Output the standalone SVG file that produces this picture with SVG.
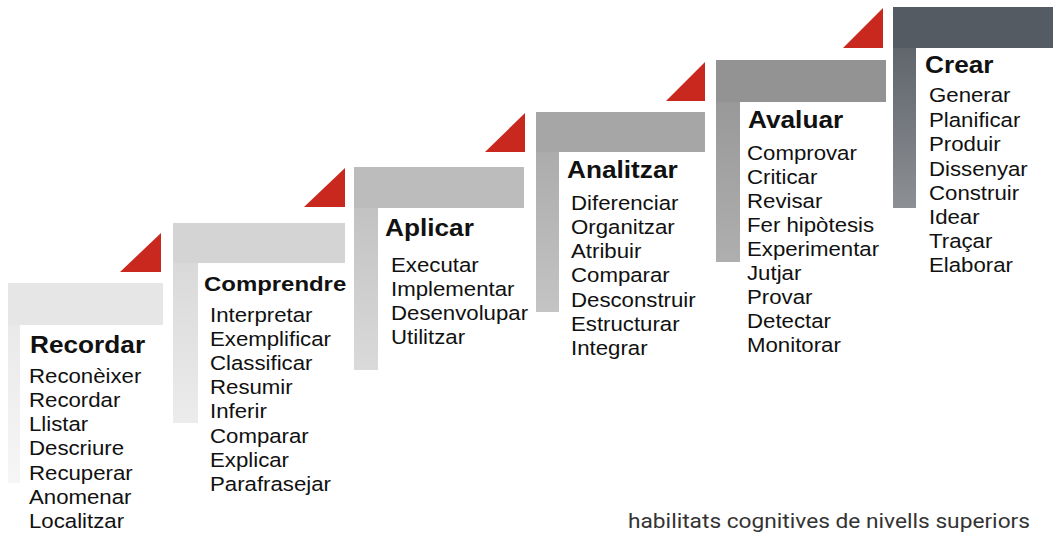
<svg xmlns="http://www.w3.org/2000/svg" width="1053" height="533" viewBox="0 0 1053 533">
<defs>
<style>
.t{font-family:"Liberation Sans",Arial,sans-serif;font-weight:bold;font-size:23px;fill:#111}
.i{font-family:"Liberation Sans",Arial,sans-serif;font-size:19.5px;fill:#111}
.tri{fill:#c8281e}
.foot{font-family:Roboto,"Liberation Sans",sans-serif;font-size:20px;fill:#333}
</style>
<linearGradient id="v1" x1="0" y1="0" x2="0" y2="1"><stop offset="0" stop-color="#e6e6e6"/><stop offset="1" stop-color="#f6f6f6"/></linearGradient>
<linearGradient id="v2" x1="0" y1="0" x2="0" y2="1"><stop offset="0" stop-color="#d4d4d4"/><stop offset="1" stop-color="#ececec"/></linearGradient>
<linearGradient id="v3" x1="0" y1="0" x2="0" y2="1"><stop offset="0" stop-color="#bcbcbc"/><stop offset="1" stop-color="#dadada"/></linearGradient>
<linearGradient id="v4" x1="0" y1="0" x2="0" y2="1"><stop offset="0" stop-color="#a6a6a6"/><stop offset="1" stop-color="#c4c4c4"/></linearGradient>
<linearGradient id="v5" x1="0" y1="0" x2="0" y2="1"><stop offset="0" stop-color="#939393"/><stop offset="1" stop-color="#afafaf"/></linearGradient>
<linearGradient id="v6" x1="0" y1="0" x2="0" y2="1"><stop offset="0" stop-color="#555b63"/><stop offset="1" stop-color="#8c8f93"/></linearGradient>
</defs>
<rect width="1053" height="533" fill="#ffffff"/>

<g id="recordar">
<rect x="8" y="283" width="12" height="200" fill="url(#v1)"/>
<rect x="8" y="283" width="155" height="42" fill="#e6e6e6"/>
<polygon class="tri" points="120,272 161,233 161,272"/>
<g transform="translate(30,0) scale(1.14,1)"><text class="t" x="0" y="353">Recordar</text></g>
<g transform="translate(29,0) scale(1.14,1)">
<text class="i" x="0" y="383">Reconèixer</text>
<text class="i" x="0" y="407">Recordar</text>
<text class="i" x="0" y="431">Llistar</text>
<text class="i" x="0" y="455">Descriure</text>
<text class="i" x="0" y="480">Recuperar</text>
<text class="i" x="0" y="504">Anomenar</text>
<text class="i" x="0" y="528">Localitzar</text>
</g>
</g>

<g id="comprendre">
<rect x="173" y="223" width="25" height="200" fill="url(#v2)"/>
<rect x="173" y="223" width="172" height="40" fill="#d4d4d4"/>
<polygon class="tri" points="304,207 345,168 345,207"/>
<g transform="translate(204,0) scale(1.14,1)"><text class="t" x="0" y="291" style="font-size:21px">Comprendre</text></g>
<g transform="translate(210,0) scale(1.14,1)">
<text class="i" x="0" y="322">Interpretar</text>
<text class="i" x="0" y="346">Exemplificar</text>
<text class="i" x="0" y="370">Classificar</text>
<text class="i" x="0" y="394">Resumir</text>
<text class="i" x="0" y="418">Inferir</text>
<text class="i" x="0" y="443">Comparar</text>
<text class="i" x="0" y="467">Explicar</text>
<text class="i" x="0" y="491">Parafrasejar</text>
</g>
</g>

<g id="aplicar">
<rect x="354" y="167" width="24" height="203" fill="url(#v3)"/>
<rect x="354" y="167" width="170" height="41" fill="#bcbcbc"/>
<polygon class="tri" points="485,152 525,113 525,152"/>
<g transform="translate(385,0) scale(1.14,1)"><text class="t" x="0" y="236">Aplicar</text></g>
<g transform="translate(391,0) scale(1.14,1)">
<text class="i" x="0" y="272">Executar</text>
<text class="i" x="0" y="296">Implementar</text>
<text class="i" x="0" y="320">Desenvolupar</text>
<text class="i" x="0" y="344">Utilitzar</text>
</g>
</g>

<g id="analitzar">
<rect x="536" y="112" width="23" height="200" fill="url(#v4)"/>
<rect x="536" y="112" width="169" height="40" fill="#a6a6a6"/>
<polygon class="tri" points="666,101 705,62 705,101"/>
<g transform="translate(567,0) scale(1.14,1)"><text class="t" x="0" y="178">Analitzar</text></g>
<g transform="translate(571,0) scale(1.14,1)">
<text class="i" x="0" y="210">Diferenciar</text>
<text class="i" x="0" y="234">Organitzar</text>
<text class="i" x="0" y="258">Atribuir</text>
<text class="i" x="0" y="282">Comparar</text>
<text class="i" x="0" y="307">Desconstruir</text>
<text class="i" x="0" y="331">Estructurar</text>
<text class="i" x="0" y="355">Integrar</text>
</g>
</g>

<g id="avaluar">
<rect x="716" y="60" width="24" height="202" fill="url(#v5)"/>
<rect x="716" y="60" width="170" height="42" fill="#939393"/>
<polygon class="tri" points="843,48 883,8 883,48"/>
<g transform="translate(748,0) scale(1.14,1)"><text class="t" x="0" y="128">Avaluar</text></g>
<g transform="translate(747,0) scale(1.14,1)">
<text class="i" x="0" y="160">Comprovar</text>
<text class="i" x="0" y="184">Criticar</text>
<text class="i" x="0" y="208">Revisar</text>
<text class="i" x="0" y="232">Fer hipòtesis</text>
<text class="i" x="0" y="256">Experimentar</text>
<text class="i" x="0" y="280">Jutjar</text>
<text class="i" x="0" y="304">Provar</text>
<text class="i" x="0" y="328">Detectar</text>
<text class="i" x="0" y="352">Monitorar</text>
</g>
</g>

<g id="crear">
<rect x="893" y="7" width="23" height="201" fill="url(#v6)"/>
<rect x="893" y="7" width="160" height="41" fill="#555b63"/>
<g transform="translate(925,0) scale(1.14,1)"><text class="t" x="0" y="73">Crear</text></g>
<g transform="translate(929,0) scale(1.14,1)">
<text class="i" x="0" y="102">Generar</text>
<text class="i" x="0" y="127">Planificar</text>
<text class="i" x="0" y="151">Produir</text>
<text class="i" x="0" y="176">Dissenyar</text>
<text class="i" x="0" y="200">Construir</text>
<text class="i" x="0" y="224">Idear</text>
<text class="i" x="0" y="248">Traçar</text>
<text class="i" x="0" y="272">Elaborar</text>
</g>
</g>

<g id="connectors"></g>

<text class="foot" x="628" y="528" textLength="402" lengthAdjust="spacingAndGlyphs">habilitats cognitives de nivells superiors</text>
</svg>
